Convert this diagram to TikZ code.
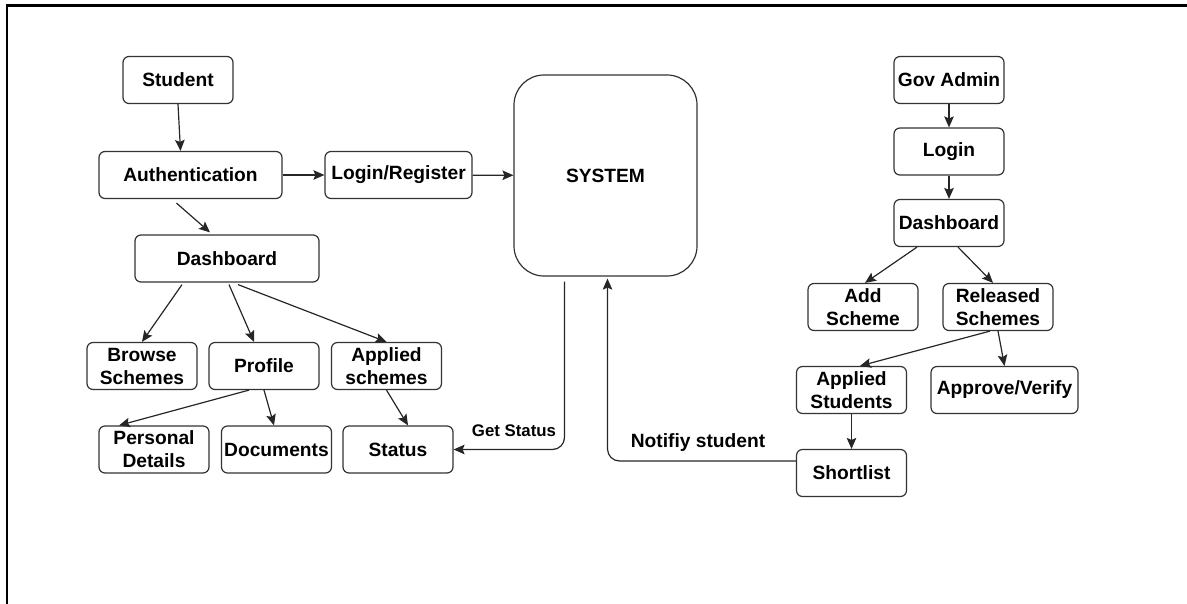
\documentclass[tikz,border=0pt]{standalone}
\usepackage{fontspec}
\setmainfont{Liberation Sans}
\usetikzlibrary{arrows.meta}

\tikzset{
  box/.style={draw=black!80, line width=0.6pt, rounded corners=3pt, fill=white,
    minimum width=55pt, minimum height=23.5pt, inner sep=0pt, align=center,
    font=\fontsize{9.6}{11.5}\selectfont\bfseries},
  arr/.style={draw=black!85, line width=0.6pt, -{Stealth[length=5.5pt,width=4.8pt,inset=1pt]}},
  lbl/.style={inner sep=0pt, font=\fontsize{9.6}{11.5}\selectfont\bfseries}
}

\begin{document}
\begin{tikzpicture}[x=0.5pt, y=-0.5pt]

  \useasboundingbox (0,0) rectangle (1187,604);

  % Draw the frame
  \draw[line width=1.4pt] (1187,5.5) -- (7,5.5) -- (7,604);

  % Student side
  \node[box] (student) at (178,80) {Student};
  \node[box, minimum width=91.5pt] (auth) at (190.5,175) {Authentication};
  \node[box, minimum width=73.5pt] (login) at (398.5,175) {Login/Register};
  \node[box, minimum width=92pt] (dash) at (227,258.5) {Dashboard};
  \node[box] (browse) at (142,366) {Browse\\Schemes};
  \node[box] (profile) at (264,366) {Profile};
  \node[box] (applied) at (386.5,366) {Applied\\schemes};
  \node[box] (personal) at (154,449.5) {Personal\\Details};
  \node[box] (docs) at (276.5,449.5) {Documents};
  \node[box] (status) at (398,449.5) {Status};

  % The system in the middle
  \node[box, minimum width=91.5pt, minimum height=100.5pt, rounded corners=15pt] (sys) at (605.5,175.5) {SYSTEM};

  % Gov admin side
  \node[box] (gov) at (949,80) {Gov Admin};
  \node[box] (glogin) at (949,151.5) {Login};
  \node[box] (gdash) at (949,223) {Dashboard};
  \node[box] (add) at (863,307) {Add\\Scheme};
  \node[box] (released) at (998,307) {Released\\Schemes};
  \node[box] (appstud) at (851.5,390) {Applied\\Students};
  \node[box, minimum width=73.5pt] (approve) at (1004.5,390) {Approve/Verify};
  \node[box] (short) at (851.5,473) {Shortlist};

  % Arrows on the student side
  \draw[arr] (student.south) -- ([xshift=-5pt]auth.north);
  \draw[arr] (auth) -- (login);
  \draw[arr] (login) -- (sys);
  \draw[arr] ([xshift=-7pt,yshift=-2pt]auth.south) -- ([xshift=-8.5pt,yshift=1pt]dash.north);
  \draw[arr] ([xshift=-22.5pt,yshift=-1pt]dash.south) -- (browse.north);
  \draw[arr] ([xshift=1pt,yshift=-1pt]dash.south) -- ([xshift=-5pt]profile.north);
  \draw[arr] ([xshift=5.5pt,yshift=-1pt]dash.south) -- (applied.north);
  \draw[arr] ([xshift=-7.5pt]profile.south) -- ([xshift=-17.5pt]personal.north);
  \draw[arr] (profile.south) -- ([xshift=-1.25pt]docs.north);
  \draw[arr] (applied.south) -- ([xshift=5pt]status.north);

  % Arrows on the admin side
  \draw[arr] (gov) -- (glogin);
  \draw[arr] (glogin) -- (gdash);
  \draw[arr] ([xshift=-16pt]gdash.south) -- ([xshift=1pt]add.north);
  \draw[arr] ([xshift=4.5pt]gdash.south) -- ([xshift=-2.5pt]released.north);
  \draw[arr] ([xshift=-4pt]released.south) -- ([xshift=4.25pt]appstud.north);
  \draw[arr] (released.south) -- (approve.north);
  \draw[arr] (appstud) -- (short);

  % Links back to the system
  \draw[arr, rounded corners=6pt] ([xshift=-20.5pt,yshift=-2.5pt]sys.south) |- (status.east);
  \draw[arr, rounded corners=6pt] ([yshift=6pt]short.west) -| ([xshift=1pt,yshift=-1pt]sys.south);
  \node[lbl, font=\fontsize{8.4}{10}\selectfont\bfseries] (getlbl) at (514,431) {Get Status};
  \node[lbl] (notlbl) at (698,443) {Notifiy student};

\end{tikzpicture}
\end{document}
